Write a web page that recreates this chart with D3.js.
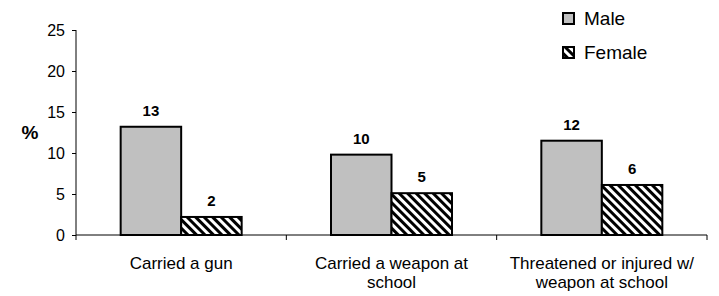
<!DOCTYPE html>
<meta charset="utf-8">
<style>
  body { margin: 0; background: #fff; }
  svg { font-family: Arial, "Liberation Sans", sans-serif; }
  .axis path, .axis line { stroke: #000; }
  .axis text { font-size: 16px; fill: #000; font-family: Arial, "Liberation Sans", sans-serif; }
</style>
<body>
<script src="https://d3js.org/d3.v7.min.js"></script>
<script>

var categories = [["Carried a gun"], ["Carried a weapon at", "school"], ["Threatened or injured w/", "weapon at school"]];
var seriesNames = ["Male", "Female"];
var male = [13.2, 9.8, 11.5];
var female = [2.2, 5.1, 6.1];
var labelsMale = ["13", "10", "12"];
var labelsFemale = ["2", "5", "6"];
var yTicks = [0, 5, 10, 15, 20, 25];

var W = 719, H = 296;
var x0 = 76, x1 = 707, yTop = 30, yBot = 235;

var svg = d3.select("body").append("svg")
    .attr("width", W).attr("height", H);

var defs = svg.append("defs");
var pat = defs.append("pattern")
    .attr("id", "hatch")
    .attr("patternUnits", "userSpaceOnUse")
    .attr("width", 6).attr("height", 6)
    .attr("patternTransform", "rotate(-45)");
pat.append("rect").attr("width", 6).attr("height", 6).attr("fill", "#fff");
pat.append("rect").attr("x", 0).attr("width", 3).attr("height", 6).attr("fill", "#000");

var yscale = d3.scaleLinear().domain([0, 25]).range([yBot, yTop]);
var xscale = d3.scaleBand().domain(d3.range(categories.length)).range([x0, x1]);
var inner = d3.scaleBand().domain(seriesNames).range([0, 121]);
var groupOff = (xscale.bandwidth() - 121) / 2;

// y axis
svg.append("g").attr("class", "axis")
    .attr("transform", "translate(" + x0 + ",0)")
    .call(d3.axisLeft(yscale).tickValues(yTicks).tickSize(4).tickPadding(7))
    .call(function(g) { g.select(".domain").attr("d", "M0," + yTop + "V" + yBot); });

// x axis line, ticks between categories
var xg = svg.append("g").attr("class", "axis");
xg.append("line").attr("x1", x0).attr("x2", x1).attr("y1", yBot).attr("y2", yBot).attr("stroke", "#000");
d3.range(categories.length + 1).forEach(function(i) {
    var xx = i < categories.length ? xscale(i) : x1;
    xg.append("line").attr("x1", xx).attr("x2", xx).attr("y1", yBot).attr("y2", yBot + 5).attr("stroke", "#000");
});

var data = categories.map(function(c, i) {
    return [
        {s: "Male", v: male[i], l: labelsMale[i]},
        {s: "Female", v: female[i], l: labelsFemale[i]}
    ];
});

var groups = svg.selectAll(".grp").data(data).enter().append("g")
    .attr("transform", function(d, i) { return "translate(" + (xscale(i) + groupOff) + ",0)"; });

groups.selectAll("rect").data(function(d) { return d; }).enter().append("rect")
    .attr("x", function(d) { return inner(d.s); })
    .attr("y", function(d) { return yscale(d.v); })
    .attr("width", inner.bandwidth())
    .attr("height", function(d) { return yBot - yscale(d.v); })
    .attr("fill", function(d) { return d.s == "Male" ? "#c0c0c0" : "url(#hatch)"; })
    .attr("stroke", "#000")
    .attr("stroke-width", 2);

groups.selectAll("text").data(function(d) { return d; }).enter().append("text")
    .attr("x", function(d) { return inner(d.s) + inner.bandwidth() / 2; })
    .attr("y", function(d) { return yscale(d.v) - 11; })
    .attr("text-anchor", "middle")
    .attr("font-size", "15px")
    .attr("font-weight", "bold")
    .text(function(d) { return d.l; });

// category labels
categories.forEach(function(lines, i) {
    var t = svg.append("text")
        .attr("text-anchor", "middle")
        .attr("font-size", "17px")
        .attr("fill", "#000");
    lines.forEach(function(ln, j) {
        t.append("tspan")
            .attr("x", xscale(i) + xscale.bandwidth() / 2)
            .attr("y", 269 + j * 19)
            .text(ln);
    });
});

// y title
svg.append("text").attr("x", 30).attr("y", 139)
    .attr("text-anchor", "middle")
    .attr("font-size", "19px").attr("font-weight", "bold")
    .text("%");

// legend
var leg = svg.selectAll(".leg").data(seriesNames).enter().append("g")
    .attr("transform", function(d, i) { return "translate(563," + (13 + i * 34) + ")"; });
leg.append("rect").attr("width", 11).attr("height", 11)
    .attr("fill", function(d) { return d == "Male" ? "#c0c0c0" : "url(#hatch)"; })
    .attr("stroke", "#000").attr("stroke-width", 2);
leg.append("text").attr("x", 21).attr("y", 12)
    .attr("font-size", "19px")
    .text(function(d) { return d; });

</script>
</body>
